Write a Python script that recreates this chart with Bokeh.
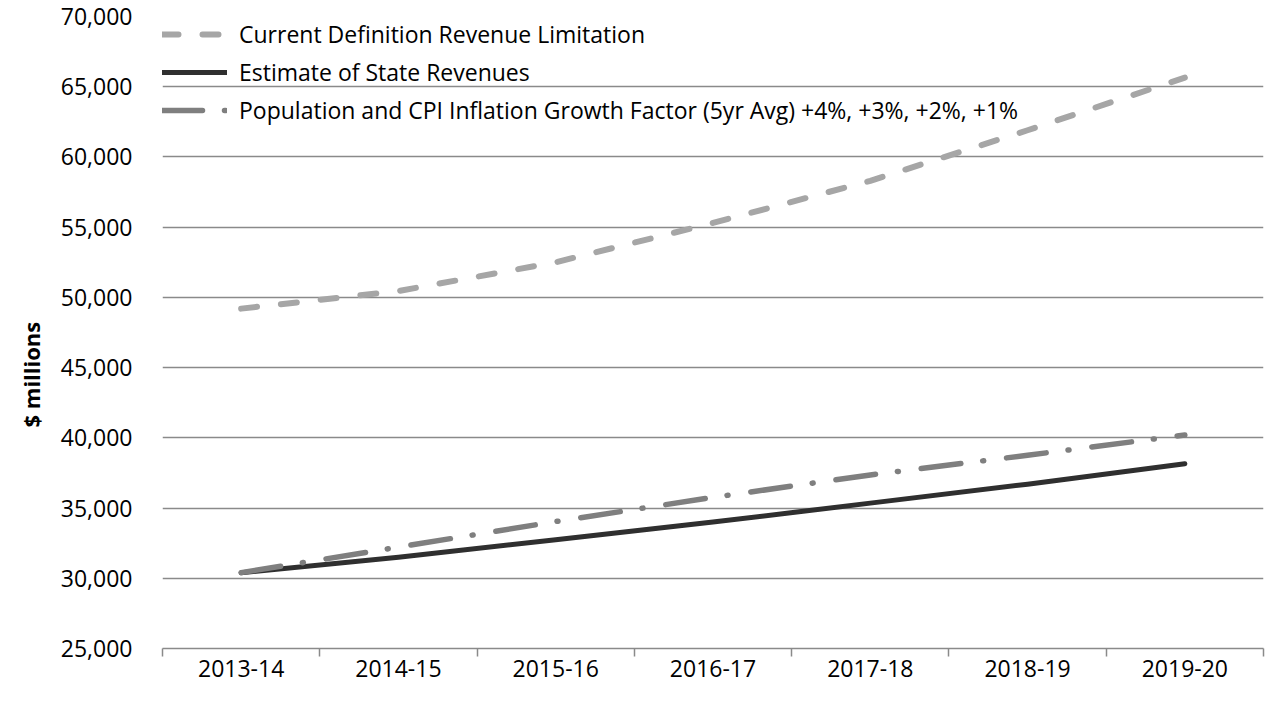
from bokeh.plotting import figure
from bokeh.models import (FixedTicker, NumeralTickFormatter, Legend, LegendItem,
                          Range1d, Title, ColumnDataSource)
from bokeh.embed import file_html
from bokeh.resources import INLINE

# ---- data ----
categories = ["2013-14", "2014-15", "2015-16", "2016-17", "2017-18", "2018-19", "2019-20"]
current_limit = [49200, 50450, 52500, 55300, 58300, 61900, 65650]
state_revenues = [30400, 31500, 32750, 34000, 35350, 36700, 38150]
pop_cpi = [30400, 32220, 34040, 35760, 37360, 38760, 40200]
y_ticks = [25000, 30000, 35000, 40000, 45000, 50000, 55000, 60000, 65000, 70000]

label_current = "Current Definition Revenue Limitation"
label_estimate = "Estimate of State Revenues"
label_pop = "Population and CPI Inflation Growth Factor (5yr Avg) +4%, +3%, +2%, +1%"

n = len(categories)
xs = [i + 0.5 for i in range(n)]
src = ColumnDataSource(dict(x=xs, current=current_limit, est=state_revenues, pop=pop_cpi))

FONT = "Open Sans"
GRID = "#8a8a8a"

p = figure(width=1265, height=700, output_backend="svg", toolbar_location=None,
           x_range=Range1d(0, n), y_range=Range1d(y_ticks[0], y_ticks[-1]),
           min_border_left=162, min_border_right=2, min_border_top=16, min_border_bottom=52)
p.outline_line_color = None
p.background_fill_color = "white"

# x axis: labels at category centres, ticks at category boundaries
xt = FixedTicker(ticks=xs, minor_ticks=list(range(n + 1)))
p.xaxis.ticker = xt
p.xaxis.major_label_overrides = {x: c for x, c in zip(xs, categories)}
p.xaxis.major_tick_in = 0
p.xaxis.major_tick_out = 0
p.xaxis.minor_tick_in = 0
p.xaxis.minor_tick_out = 8
p.xaxis.minor_tick_line_color = GRID
p.xaxis.minor_tick_line_width = 1.5
p.xaxis.axis_line_color = GRID
p.xaxis.axis_line_width = 1.5
p.xaxis.major_label_text_font = FONT
p.xaxis.major_label_text_font_size = "23px"
p.xaxis.major_label_text_color = "black"
p.xaxis.major_label_standoff = 3

# y axis
p.yaxis.ticker = FixedTicker(ticks=y_ticks, minor_ticks=[])
p.yaxis.formatter = NumeralTickFormatter(format="0,0")
p.yaxis.axis_line_color = None
p.yaxis.major_tick_in = 0
p.yaxis.major_tick_out = 0
p.yaxis.minor_tick_in = 0
p.yaxis.minor_tick_out = 0
p.yaxis.minor_tick_line_color = None
p.yaxis.major_label_text_font = FONT
p.yaxis.major_label_text_font_size = "23px"
p.yaxis.major_label_text_color = "black"
p.yaxis.major_label_standoff = 30

p.add_layout(Title(text="$ millions", align="left", offset=221,
                   text_font=FONT, text_font_style="bold", text_font_size="22px",
                   text_color="black", standoff=24), "left")

p.xgrid.grid_line_color = None
p.ygrid.grid_line_color = GRID
p.ygrid.grid_line_width = 1.5
p.ygrid.ticker = p.yaxis.ticker

r_cur = p.line("x", "current", source=src, line_color="#A6A6A6", line_width=6,
               line_dash="16 24", line_cap="round", line_join="round")
r_est = p.line("x", "est", source=src, line_color="#2F2F2F", line_width=5,
               line_cap="round", line_join="round")
r_pop = p.line("x", "pop", source=src, line_color="#7F7F7F", line_width=5.5,
               line_dash="40 22 1 23", line_cap="round", line_join="round")

legend = Legend(items=[LegendItem(label=label_current, renderers=[r_cur]),
                       LegendItem(label=label_estimate, renderers=[r_est]),
                       LegendItem(label=label_pop, renderers=[r_pop])],
                location="top_left", margin=0, padding=1, spacing=2,
                glyph_width=65, glyph_height=36, label_height=36,
                label_standoff=12, background_fill_alpha=0, border_line_color=None,
                label_text_font=FONT, label_text_font_size="23px",
                label_text_color="black")
p.add_layout(legend)

open("out.html", "w").write(file_html(p, INLINE))
